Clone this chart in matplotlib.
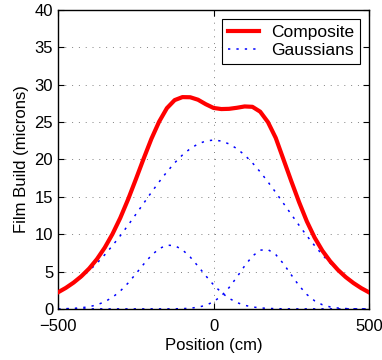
import matplotlib
matplotlib.use("Agg")
import matplotlib.pyplot as plt

plt.rcParams['font.family'] = ['Liberation Sans', 'DejaVu Sans']

# Positions (cm) where values were read
position = [-500, -475, -450, -425, -400, -375, -350, -325, -300, -275,
            -250, -225, -200, -175, -150, -125, -100, -75, -50, -25,
            0, 25, 50, 75, 100, 125, 150, 175, 200, 225,
            250, 275, 300, 325, 350, 375, 400, 425, 450, 475, 500]

# Film build (microns)
composite = [2.22, 2.81, 3.52, 4.37, 5.40, 6.66, 8.19, 10.02, 12.17, 14.64,
             17.33, 20.09, 22.75, 25.06, 26.87, 27.95, 28.35, 28.33, 28.00, 27.40,
             26.90, 26.75, 26.78, 26.92, 27.10, 27.05, 26.40, 25.00, 22.89, 20.00,
             17.10, 14.30, 11.72, 9.55, 7.79, 6.38, 5.22, 4.26, 3.46, 2.78, 2.21]

gauss_center = [2.21, 2.78, 3.45, 4.22, 5.11, 6.12, 7.24, 8.47, 9.79, 11.19,
                12.65, 14.12, 15.59, 17.00, 18.34, 19.55, 20.60, 21.45, 22.08, 22.47,
                22.60, 22.47, 22.08, 21.45, 20.60, 19.55, 18.34, 17.00, 15.59, 14.12,
                12.65, 11.19, 9.79, 8.47, 7.24, 6.12, 5.11, 4.22, 3.45, 2.78, 2.21]

gauss_left = [0.01, 0.03, 0.07, 0.15, 0.29, 0.54, 0.95, 1.55, 2.38, 3.45,
              4.68, 5.97, 7.16, 8.06, 8.53, 8.47, 7.91, 6.94, 5.72, 4.43,
              3.22, 2.20, 1.41, 0.85, 0.48, 0.26, 0.13, 0.06, 0.03, 0.01,
              0.0, 0.0, 0.0, 0.0, 0.0, 0.0, 0.0, 0.0, 0.0, 0.0, 0.0]

gauss_right = [0.0, 0.0, 0.0, 0.0, 0.0, 0.0, 0.0, 0.0, 0.0, 0.0,
               0.0, 0.0, 0.0, 0.0, 0.0, 0.01, 0.03, 0.09, 0.22, 0.48,
               0.95, 1.73, 2.85, 4.25, 5.75, 7.06, 7.86, 7.94, 7.27, 6.04,
               4.55, 3.11, 1.93, 1.08, 0.55, 0.26, 0.11, 0.04, 0.01, 0.0, 0.0]

fig = plt.figure(figsize=(3.82, 3.6), dpi=100)
ax = fig.add_axes([0.152, 0.142, 0.814, 0.830])

dots = (0, (1.5, 4))
ax.plot(position, composite, color="red", lw=3, label="Composite", zorder=3)
ax.plot(position, gauss_center, color="blue", lw=1.1, ls=dots, label="Gaussians")
ax.plot(position, gauss_left, color="blue", lw=1.1, ls=dots)
ax.plot(position, gauss_right, color="blue", lw=1.1, ls=dots)

ax.set_xlim(-500, 500)
ax.set_ylim(0, 40)
ax.set_xticks([-500, 0, 500])
ax.set_yticks(range(0, 41, 5))
ax.tick_params(direction="in", top=True, right=True, labelsize=12, length=4)
ax.tick_params(axis="x", pad=7)
ax.tick_params(axis="y", pad=3.5)
ax.grid(True, color="gray", ls=(0, (1, 6)), lw=0.7)
ax.set_xlabel("Position (cm)", fontsize=12, labelpad=3)
ax.set_ylabel("Film Build (microns)", fontsize=12, labelpad=4)
for s in ax.spines.values():
    s.set_linewidth(1.0)

leg = ax.legend(loc="upper right", fontsize=12.5, fancybox=False,
                framealpha=1, edgecolor="black", borderaxespad=0.5,
                handlelength=1.8, handletextpad=0.7, borderpad=0.35,
                labelspacing=0.15)
leg.get_frame().set_linewidth(0.8)

fig.savefig("out.png", dpi=100)
